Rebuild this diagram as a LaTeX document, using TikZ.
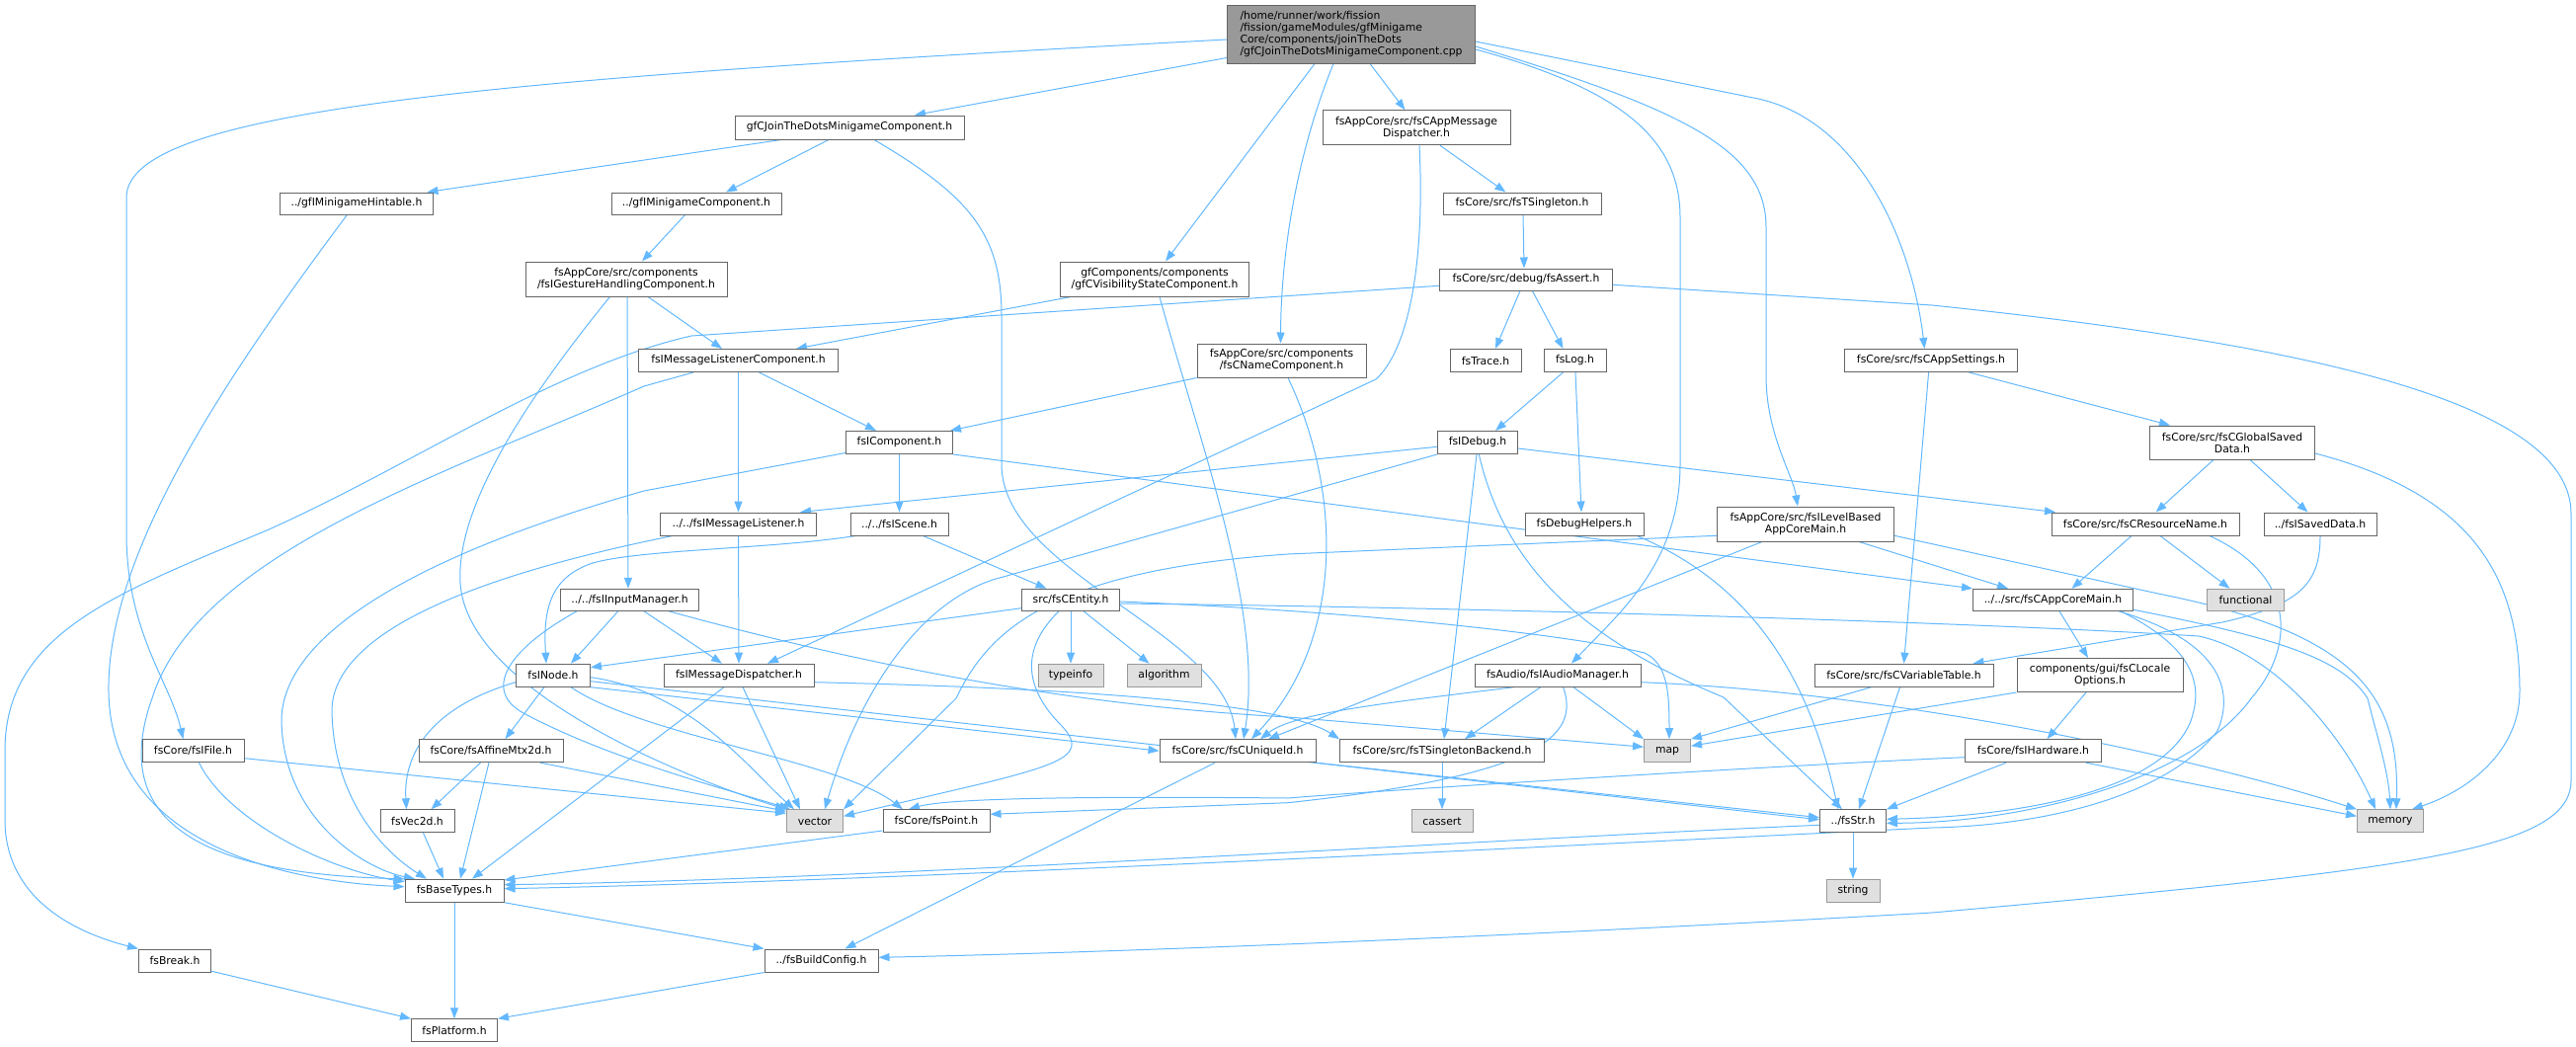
\documentclass[tikz,border=0pt]{standalone}
\usepackage{fontspec}
\setmainfont{DejaVu Sans}
\usetikzlibrary{arrows.meta,backgrounds}
\definecolor{edgeblue}{HTML}{63B8FF}
\definecolor{bordergray}{HTML}{666666}
\definecolor{sysborder}{HTML}{999999}
\definecolor{sysfill}{HTML}{E0E0E0}
\definecolor{rootfill}{HTML}{999999}
\tikzset{
  box/.style={draw=bordergray, line width=1pt, fill=white, inner sep=0pt, align=center, font=\fontsize{10.8}{12}\selectfont},
  sys/.style={box, draw=sysborder, fill=sysfill},
  rootbox/.style={box, fill=rootfill, align=left},
  lnk/.style={draw=edgeblue, line width=1pt, line join=round, -{Triangle[length=11pt,width=8pt]}},
}
\newcommand{\nd}[7]{\node[#1, minimum width=#5pt, minimum height=#6pt] (#2) at (#3,#4) {#7};}
\begin{document}
\begin{tikzpicture}[x=1pt,y=-1pt]
\useasboundingbox (0,0) rectangle (2608,1060);
\nd{rootbox}{R}{1368}{34.5}{251}{59}{/home/runner/work/fission\\/fission/gameModules/gfMinigame\\Core/components/joinTheDots\\/gfCJoinTheDotsMinigameComponent.cpp}
\nd{box}{JTD}{860}{129}{232}{24}{gfCJoinTheDotsMinigameComponent.h}
\nd{box}{HINT}{361}{206}{155}{22}{../gfIMinigameHintable.h}
\nd{box}{MGC}{705}{206}{172}{22}{../gfIMinigameComponent.h}
\nd{box}{GEST}{634}{282.5}{204}{35}{fsAppCore/src/components\\/fsIGestureHandlingComponent.h}
\nd{box}{VIS}{1169}{282.5}{191}{35}{gfComponents/components\\/gfCVisibilityStateComponent.h}
\nd{box}{AMD}{1434}{129.3}{190}{35}{fsAppCore/src/fsCAppMessage\\Dispatcher.h}
\nd{box}{TS}{1541}{206}{160}{22}{fsCore/src/fsTSingleton.h}
\nd{box}{AST}{1545}{283}{175}{22}{fsCore/src/debug/fsAssert.h}
\nd{box}{MLC}{747.5}{365}{202}{23}{fsIMessageListenerComponent.h}
\nd{box}{NAME}{1297.5}{365}{171}{34}{fsAppCore/src/components\\/fsCNameComponent.h}
\nd{box}{TRACE}{1504}{365}{72}{23}{fsTrace.h}
\nd{box}{LOG}{1594.5}{365}{63}{23}{fsLog.h}
\nd{box}{SET}{1955}{365}{175}{23}{fsCore/src/fsCAppSettings.h}
\nd{box}{COMP}{910.5}{448}{108}{23}{fsIComponent.h}
\nd{box}{DBG}{1496}{448}{81}{23}{fsIDebug.h}
\nd{box}{GSD}{2260}{448}{167}{34}{fsCore/src/fsCGlobalSaved\\Data.h}
\nd{box}{MLIS}{747.5}{530.5}{158}{23}{../../fsIMessageListener.h}
\nd{box}{SCENE}{910.5}{530.5}{99}{23}{../../fsIScene.h}
\nd{box}{DH}{1604}{530.5}{120}{23}{fsDebugHelpers.h}
\nd{box}{LBM}{1828}{530.5}{179}{35}{fsAppCore/src/fsILevelBased\\AppCoreMain.h}
\nd{box}{RN}{2172}{530.5}{190}{23}{fsCore/src/fsCResourceName.h}
\nd{box}{SAVED}{2349}{530.5}{114}{23}{../fsISavedData.h}
\nd{box}{INP}{637.5}{607.3}{140}{22}{../../fsIInputManager.h}
\nd{box}{ENT}{1084}{607.3}{99}{22}{src/fsCEntity.h}
\nd{box}{ACM}{2078.5}{607.3}{162}{22}{../../src/fsCAppCoreMain.h}
\nd{sys}{FUNC}{2273.5}{607.3}{78}{22}{functional}
\nd{box}{NODE}{560}{683.7}{75}{23}{fsINode.h}
\nd{box}{MD}{748}{683.7}{152}{23}{fsIMessageDispatcher.h}
\nd{sys}{TYPE}{1084}{683.7}{66}{23}{typeinfo}
\nd{sys}{ALG}{1178.5}{683.7}{75}{23}{algorithm}
\nd{box}{AUD}{1577}{683.7}{168}{23}{fsAudio/fsIAudioManager.h}
\nd{box}{VT}{1927.5}{683.7}{181}{23}{fsCore/src/fsCVariableTable.h}
\nd{box}{LOC}{2126}{683.5}{168}{34}{components/gui/fsCLocale\\Options.h}
\nd{box}{FILE}{195.5}{760.2}{103}{23}{fsCore/fsIFile.h}
\nd{box}{AFF}{497}{760.2}{146}{23}{fsCore/fsAffineMtx2d.h}
\nd{box}{UID}{1253}{760.2}{158}{23}{fsCore/src/fsCUniqueId.h}
\nd{box}{TSB}{1460}{760.2}{207}{23}{fsCore/src/fsTSingletonBackend.h}
\nd{sys}{MAP}{1688}{760.2}{47}{23}{map}
\nd{box}{HW}{2058.5}{760.2}{138}{23}{fsCore/fsIHardware.h}
\nd{box}{V2D}{422.5}{831.3}{75}{23}{fsVec2d.h}
\nd{sys}{VECT}{825}{831.3}{57}{23}{vector}
\nd{box}{POINT}{948}{831.3}{108}{23}{fsCore/fsPoint.h}
\nd{sys}{CASS}{1460}{831.3}{62}{23}{cassert}
\nd{box}{STR}{1876}{831.3}{67}{23}{../fsStr.h}
\nd{sys}{MEM}{2420}{831.3}{67}{23}{memory}
\nd{box}{BT}{460}{901.7}{100}{23}{fsBaseTypes.h}
\nd{sys}{STRING}{1876}{901.7}{54}{23}{string}
\nd{box}{BRK}{177}{972.5}{73}{23}{fsBreak.h}
\nd{box}{BC}{831.5}{972.5}{115}{23}{../fsBuildConfig.h}
\nd{box}{PLAT}{460}{1043.3}{87}{23}{fsPlatform.h}
\begin{scope}[on background layer]
\draw[lnk] ([yshift=6pt]R.south west) -- ([xshift=66pt]JTD.north);
\draw[lnk] ([yshift=-5.5pt]R.west) .. controls (500,80) and (128,110) .. (128,200) -- (128,540) .. controls (128,640) and (172,690) .. ([xshift=-10pt]FILE.north);
\draw[lnk] ([xshift=-37pt]R.south) -- ([xshift=11pt]VIS.north);
\draw[lnk] ([xshift=-18pt]R.south) .. controls (1315,150) and (1297,250) .. ([xshift=-1pt]NAME.north);
\draw[lnk] ([xshift=19pt]R.south) -- ([xshift=-11.5pt]AMD.north);
\draw[lnk] ([yshift=-15.5pt]R.east) .. controls (1640,90) and (1701,140) .. (1701,220) -- (1701,470) .. controls (1701,570) and (1640,620) .. ([xshift=14pt]AUD.north);
\draw[lnk] ([yshift=-12.5pt]R.east) .. controls (1700,110) and (1788,150) .. (1788,230) -- (1788,380) .. controls (1788,440) and (1815,480) .. ([xshift=-8pt]LBM.north);
\draw[lnk] ([yshift=-7.5pt]R.east) -- (1780,100) .. controls (1880,122) and (1935,240) .. ([xshift=-6.5pt]SET.north);
\draw[lnk] ([xshift=-69pt]JTD.south) -- ([xshift=71.5pt]HINT.north);
\draw[lnk] ([xshift=-21pt]JTD.south) -- ([xshift=30pt]MGC.north);
\draw[lnk] ([xshift=25pt]JTD.south) .. controls (985,200) and (1014,240) .. (1014,320) -- (1014,470) .. controls (1014,580) and (1240,640) .. ([xshift=-2pt]UID.north);
\draw[lnk] ([xshift=-9.6pt]HINT.south) .. controls (230,380) and (108,560) .. (110,700) .. controls (112,860) and (300,893) .. ([yshift=4pt]BT.west);
\draw[lnk] ([xshift=-11.4pt]MGC.south) -- ([xshift=16pt]GEST.north);
\draw[lnk] ([xshift=22pt]GEST.south) -- ([xshift=-16.5pt]MLC.north);
\draw[lnk] ([xshift=1pt]GEST.south) -- ([xshift=-1.5pt]INP.north);
\draw[lnk] ([xshift=-16.5pt]GEST.south) .. controls (520,420) and (462,520) .. (466,590) .. controls (472,700) and (700,790) .. (VECT.north west);
\draw[lnk] ([xshift=-84.6pt]VIS.south) -- ([xshift=58.5pt]MLC.north);
\draw[lnk] ([xshift=5pt]VIS.south) .. controls (1215,450) and (1280,620) .. ([xshift=6pt]UID.north);
\draw[lnk] (NAME.south west) -- ([xshift=-3pt]COMP.north east);
\draw[lnk] ([xshift=6.5pt]NAME.south) .. controls (1360,500) and (1360,650) .. ([xshift=14pt]UID.north);
\draw[lnk] ([xshift=24pt]AMD.south) -- ([xshift=-16.6pt]TS.north);
\draw[lnk] ([xshift=3pt]AMD.south) .. controls (1443,270) and (1425,355) .. (1393,384) -- ([xshift=29pt]MD.north);
\draw[lnk] ([xshift=1pt]TS.south) -- ([xshift=-2pt]AST.north);
\draw[lnk] ([xshift=-6pt]AST.south) -- ([xshift=10pt]TRACE.north);
\draw[lnk] ([xshift=6.4pt]AST.south) -- ([xshift=-12pt]LOG.north);
\draw[lnk] ([yshift=-6.3pt]AST.west) -- (700,340) .. controls (560,372) and (420,470) .. (270,537) .. controls (120,600) and (5,640) .. (5,760) -- (5,830) .. controls (5,900) and (60,940) .. (BRK.north west);
\draw[lnk] ([yshift=-5.3pt]AST.east) -- (1956,309) .. controls (2300,345) and (2603,400) .. (2603,520) -- (2603,790) .. controls (2603,860) and (2450,880) .. (1956,924) .. controls (1500,950) and (1100,965) .. ([yshift=3.2pt]BC.east);
\draw[lnk] ([xshift=-12pt]LOG.south) -- ([xshift=18pt]DBG.north);
\draw[lnk] ([xshift=0.5pt]LOG.south) -- ([xshift=-3pt]DH.north);
\draw[lnk] ([yshift=-4.3pt]DBG.west) -- ([xshift=62.5pt]MLIS.north);
\draw[lnk] (DBG.south west) -- (1005,587) .. controls (930,612) and (870,700) .. ([xshift=10pt]VECT.north);
\draw[lnk] ([xshift=-1pt]DBG.south) -- ([xshift=2pt]TSB.north);
\draw[lnk] ([xshift=1.3pt]DBG.south) .. controls (1525,580) and (1610,650) .. (1745,706) -- ([xshift=-11pt]STR.north);
\draw[lnk] ([yshift=-6pt]DBG.east) -- ([xshift=-91pt]RN.north);
\draw[lnk] ([xshift=53.4pt]DH.south) .. controls (1770,590) and (1830,680) .. ([xshift=-15pt]STR.north);
\draw[lnk] ([yshift=-11.8pt]LBM.west) -- (1304,561) .. controls (1060,578) and (1000,640) .. (968,707) -- (VECT.north east);
\draw[lnk] ([xshift=-44pt]LBM.south) -- ([xshift=31pt]UID.north);
\draw[lnk] ([xshift=54pt]LBM.south) -- ([xshift=-45.5pt]ACM.north);
\draw[lnk] ([yshift=-11.8pt]LBM.east) -- (2185,601) .. controls (2380,640) and (2430,700) .. ([xshift=6pt]MEM.north);
\draw[lnk] (COMP.south) -- (SCENE.north);
\draw[lnk] ([yshift=1.5pt]COMP.south west) -- (652,497) .. controls (430,560) and (285,640) .. (285,730) .. controls (287,830) and (370,880) .. ([xshift=-40pt]BT.north);
\draw[lnk] (COMP.south east) -- (ACM.north west);
\draw[lnk] ([xshift=21pt]MLC.south) -- ([xshift=-23.5pt]COMP.north);
\draw[lnk] (MLC.south) -- (MLIS.north);
\draw[lnk] ([xshift=-45.5pt]MLC.south) -- (652,391) .. controls (450,480) and (200,560) .. (154,707) .. controls (110,830) and (200,885) .. (BT.north west);
\draw[lnk] (MLIS.south) -- (MD.north);
\draw[lnk] ([xshift=-66.5pt]MLIS.south) .. controls (520,575) and (336,630) .. (336,720) .. controls (338,820) and (400,870) .. ([xshift=-28pt]BT.north);
\draw[lnk] ([xshift=-44.5pt]SCENE.south) .. controls (780,556) and (650,556) .. (600,570) .. controls (555,585) and (550,620) .. ([xshift=-7pt]NODE.north);
\draw[lnk] ([xshift=24pt]SCENE.south) -- ([xshift=-24.5pt]ENT.north);
\draw[lnk] ([xshift=-11.7pt]INP.south) -- ([xshift=18pt]NODE.north);
\draw[lnk] ([xshift=14.5pt]INP.south) -- ([xshift=-17pt]MD.north);
\draw[lnk] ([xshift=39.5pt]INP.south) .. controls (900,680) and (1100,715) .. (1304,726) -- ([yshift=4pt]MAP.west);
\draw[lnk] ([xshift=-53.5pt]INP.south) .. controls (510,660) and (490,700) .. (530,722) .. controls (620,770) and (740,800) .. ([xshift=4pt]VECT.north west);
\draw[lnk] ([xshift=-15pt]MD.south) -- ([xshift=18pt]BT.north);
\draw[lnk] ([xshift=4pt]MD.south) -- ([xshift=-15pt]VECT.north);
\draw[lnk] ([yshift=-7pt]MD.east) .. controls (1100,697) and (1300,712) .. (TSB.north west);
\draw[lnk] ([yshift=-8.4pt]ENT.west) -- ([yshift=8pt]NODE.east);
\draw[lnk] (ENT.south) -- (TYPE.north);
\draw[lnk] ([xshift=13pt]ENT.south) -- ([xshift=-15pt]ALG.north);
\draw[lnk] ([xshift=-12pt]ENT.south) .. controls (1030,660) and (1040,700) .. (1075,735) .. controls (1100,762) and (1080,772) .. (1000,792) -- ([yshift=5pt]VECT.east);
\draw[lnk] ([yshift=-1.7pt]ENT.east) .. controls (1400,620) and (1600,645) .. (1665,661) .. controls (1688,672) and (1690,700) .. ([xshift=2pt]MAP.north);
\draw[lnk] ([yshift=-3.7pt]ENT.east) .. controls (1500,615) and (2000,630) .. (2226,644) .. controls (2300,660) and (2370,740) .. ([xshift=-15pt]MEM.north);
\draw[lnk] ([xshift=-44.3pt]AUD.south) .. controls (1400,712) and (1310,722) .. ([xshift=23pt]UID.north);
\draw[lnk] ([xshift=-17.3pt]AUD.south) -- ([xshift=23pt]TSB.north);
\draw[lnk] ([xshift=16pt]AUD.south) -- (MAP.north west);
\draw[lnk] ([yshift=-7pt]AUD.east) .. controls (1900,700) and (2200,760) .. (MEM.north west);
\draw[lnk] ([xshift=5.6pt]AUD.south) .. controls (1600,745) and (1560,785) .. (1304,812.7) -- ([yshift=7pt]POINT.east);
\draw[lnk] ([xshift=-33pt]VT.south) -- (MAP.north east);
\draw[lnk] ([xshift=-4pt]VT.south) -- ([xshift=6pt]STR.north);
\draw[lnk] (SAVED.south) .. controls (2349,590) and (2330,612) .. (2250,630) -- ([xshift=70pt]VT.north);
\draw[lnk] ([xshift=-2.4pt]SET.south) -- (VT.north);
\draw[lnk] ([xshift=38.4pt]SET.south) -- ([xshift=-63pt]GSD.north);
\draw[lnk] ([xshift=-19pt]GSD.south) -- ([xshift=10.6pt]RN.north);
\draw[lnk] ([xshift=18pt]GSD.south) -- ([xshift=-12.5pt]SAVED.north);
\draw[lnk] ([yshift=-11pt]GSD.east) .. controls (2500,500) and (2551,580) .. (2551,700) .. controls (2551,760) and (2500,800) .. ([xshift=22pt]MEM.north);
\draw[lnk] ([xshift=-14pt]RN.south) -- ([xshift=19pt]ACM.north);
\draw[lnk] ([xshift=15pt]RN.south) -- ([xshift=-16pt]FUNC.north);
\draw[lnk] ([xshift=65pt]RN.south) .. controls (2330,585) and (2320,660) .. (2280,706) .. controls (2220,790) and (2050,833) .. ([yshift=-2pt]STR.east);
\draw[lnk] ([xshift=6.5pt]ACM.south) -- ([xshift=-12pt]LOC.north);
\draw[lnk] ([yshift=-10pt]ACM.east) .. controls (2300,645) and (2370,665) .. (2397,707) .. controls (2405,740) and (2418,780) .. (MEM.north);
\draw[lnk] ([xshift=68.5pt]ACM.south) .. controls (2230,660) and (2228,700) .. (2218,730) .. controls (2190,800) and (2050,826) .. ([yshift=2pt]STR.east);
\draw[lnk] ([xshift=66.5pt]ACM.south) .. controls (2250,650) and (2262,700) .. (2245,740) .. controls (2190,810) and (2060,836) .. (1956,838) .. controls (1500,860) and (900,892) .. ([yshift=2pt]BT.east);
\draw[lnk] (LOC.south west) -- ([yshift=5pt]MAP.east);
\draw[lnk] ([xshift=-14pt]LOC.south) -- ([xshift=14pt]HW.north);
\draw[lnk] ([xshift=53.5pt]HW.south) -- ([yshift=5pt]MEM.west);
\draw[lnk] ([xshift=-27.5pt]HW.south) -- (STR.north east);
\draw[lnk] ([yshift=-6.5pt]HW.west) .. controls (1800,775) and (1400,800) .. (1304,808) .. controls (1100,806) and (960,808) .. ([xshift=-28pt]POINT.north);
\draw[lnk] ([xshift=6pt]FILE.south) .. controls (230,830) and (330,880) .. ([yshift=9pt]BT.west);
\draw[lnk] ([yshift=-7.5pt]FILE.east) -- ([yshift=8pt]VECT.west);
\draw[lnk] ([xshift=-10.5pt]AFF.south) -- ([xshift=14pt]V2D.north);
\draw[lnk] ([xshift=-2pt]AFF.south) -- ([xshift=6pt]BT.north);
\draw[lnk] ([xshift=50pt]AFF.south) -- ([yshift=10pt]VECT.west);
\draw[lnk] ([xshift=6pt]V2D.south) -- ([xshift=-11pt]BT.north);
\draw[lnk] ([yshift=-9.7pt]POINT.west) -- ([yshift=10.7pt]BT.east);
\draw[lnk] (BT.south) -- (PLAT.north);
\draw[lnk] (BT.south east) -- (BC.north west);
\draw[lnk] ([yshift=1.3pt]BRK.south east) -- (PLAT.north west);
\draw[lnk] (BC.south west) -- (PLAT.north east);
\draw[lnk] ([xshift=-23pt]UID.south) -- ([xshift=24pt]BC.north);
\draw[lnk] (UID.south east) -- ([yshift=3.6pt]STR.west);
\draw[lnk] ([yshift=-6pt]NODE.east) -- ([yshift=1.5pt]STR.west);
\draw[lnk] (NODE.south east) -- (UID.west);
\draw[lnk] ([yshift=-7pt]NODE.west) .. controls (440,715) and (408,760) .. ([xshift=-11pt]V2D.north);
\draw[lnk] ([xshift=-9pt]NODE.south) -- ([xshift=14.4pt]AFF.north);
\draw[lnk] ([xshift=18pt]NODE.south) .. controls (650,745) and (850,770) .. ([xshift=-34pt]POINT.north);
\draw[lnk] ([yshift=-2pt]NODE.east) .. controls (700,700) and (760,780) .. ([xshift=8pt]VECT.north west);
\draw[lnk] (TSB.south) -- (CASS.north);
\draw[lnk] (STR.south) -- (STRING.north);
\draw[lnk] ([yshift=-4pt]STR.west) .. controls (1500,850) and (900,890) .. ([yshift=6pt]BT.east);
\end{scope}
\end{tikzpicture}
\end{document}
